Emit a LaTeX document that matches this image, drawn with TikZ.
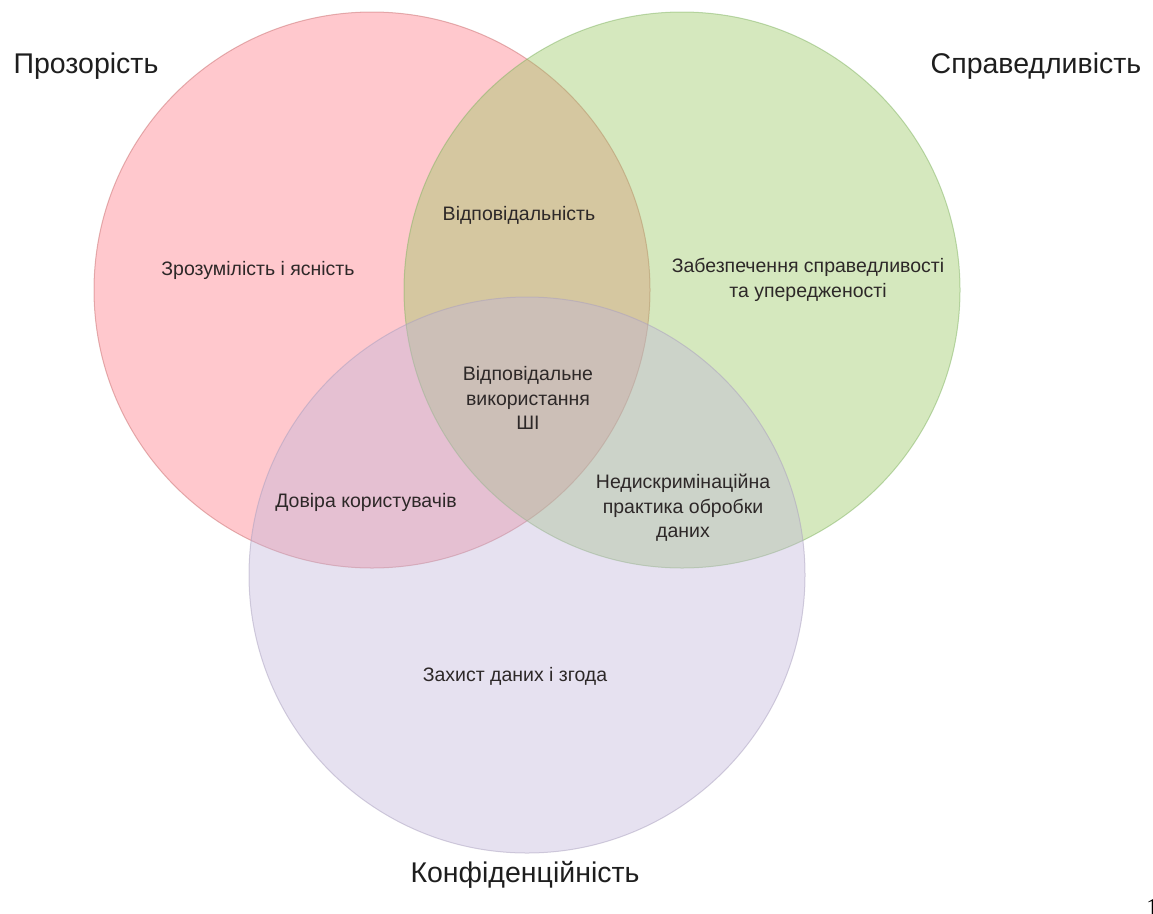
\documentclass[tikz,border=0pt]{standalone}
\usepackage{fontspec}
\setmainfont{Liberation Sans}
\newfontfamily\pagenumfont{Liberation Serif}
\definecolor{transpfill}{RGB}{255,117,130}
\definecolor{fairfill}{RGB}{150,198,93}
\definecolor{privfill}{RGB}{192,180,218}
\definecolor{transpline}{RGB}{200,110,110}
\definecolor{fairline}{RGB}{130,180,100}
\definecolor{privline}{RGB}{170,160,190}
\definecolor{regiontext}{RGB}{45,40,40}
\definecolor{nametext}{RGB}{30,30,30}
\begin{document}
\begin{tikzpicture}[x=1pt, y=-1pt,
		setcircle/.style={line width=1pt, fill opacity=0.4, draw opacity=0.5},
		region/.style={font=\fontsize{19.5}{24.5}\selectfont, text=regiontext, align=center},
		setname/.style={font=\fontsize{28.5}{34}\selectfont, text=nametext}]
	\useasboundingbox (0,0) rectangle (1153,913);
	
	%circles
	\filldraw[setcircle, draw=transpline, fill=transpfill] (372,290) circle[radius=278pt];
	\filldraw[setcircle, draw=fairline, fill=fairfill] (682,290) circle[radius=278pt];
	\filldraw[setcircle, draw=privline, fill=privfill] (527,575) circle[radius=278pt];
	
	%set names
	\node[setname] (transp) at (86,66){Прозорість};
	\node[setname] (fair) at (1036,66){Справедливість};
	\node[setname] (priv) at (525,875){Конфіденційність};
	
	%regions
	\node[region] (clarity) at (258,270){Зрозумілість і ясність};
	\node[region] (account) at (519,215){Відповідальність};
	\node[region] (equity) at (808,280){Забезпечення справедливості\\та упередженості};
	\node[region] (respai) at (528,398){Відповідальне\\використання\\ШІ};
	\node[region] (trust) at (366,502){Довіра користувачів};
	\node[region] (nondiscr) at (683,508){Недискримінаційна\\практика обробки\\даних};
	\node[region] (protect) at (515,676){Захист даних і згода};
	
	%page number
	\node[anchor=base west, inner sep=0pt, font=\pagenumfont\fontsize{26}{26}\selectfont] (pagenum) at (1146,916){1};
\end{tikzpicture}
\end{document}
